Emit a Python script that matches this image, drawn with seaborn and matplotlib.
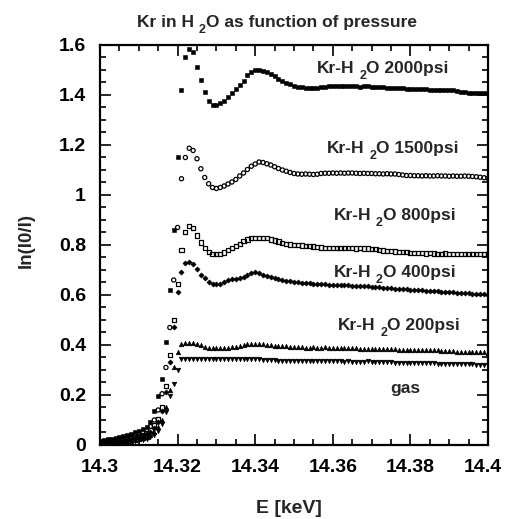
import matplotlib
matplotlib.use("Agg")
import matplotlib.pyplot as plt
import seaborn as sns
from matplotlib.ticker import MultipleLocator
from matplotlib.transforms import offset_copy, ScaledTranslation

# Photon energy (keV), shared sampling grid
energy = [
    14.300, 14.301, 14.302, 14.303, 14.304, 14.305, 14.306, 14.307, 14.308, 14.309,
    14.310, 14.311, 14.312, 14.313, 14.314, 14.315, 14.316, 14.317, 14.318, 14.319,
    14.320, 14.321, 14.322, 14.323, 14.324, 14.325, 14.326, 14.327, 14.328, 14.329,
    14.330, 14.331, 14.332, 14.333, 14.334, 14.335, 14.336, 14.337, 14.338, 14.339,
    14.340, 14.341, 14.342, 14.343, 14.344, 14.345, 14.346, 14.347, 14.348, 14.349,
    14.350, 14.351, 14.352, 14.353, 14.354, 14.355, 14.356, 14.357, 14.358, 14.359,
    14.360, 14.361, 14.362, 14.363, 14.364, 14.365, 14.366, 14.367, 14.368, 14.369,
    14.370, 14.371, 14.372, 14.373, 14.374, 14.375, 14.376, 14.377, 14.378, 14.379,
    14.380, 14.381, 14.382, 14.383, 14.384, 14.385, 14.386, 14.387, 14.388, 14.389,
    14.390, 14.391, 14.392, 14.393, 14.394, 14.395, 14.396, 14.397, 14.398, 14.399,
    14.400,
]

# ln(I0/I) for each pressure
psi2000 = [
    0.016, 0.019, 0.022, 0.025, 0.028, 0.032, 0.036, 0.040, 0.045, 0.050, 0.057,
    0.064, 0.073, 0.090, 0.135, 0.195, 0.265, 0.41, 0.62, 0.86, 1.15,
    1.42, 1.55, 1.585, 1.57, 1.51, 1.46, 1.41, 1.375, 1.36, 1.36,
    1.366, 1.374, 1.39, 1.408, 1.425, 1.44, 1.457, 1.48, 1.492, 1.50,
    1.498, 1.496, 1.491, 1.484, 1.474, 1.464, 1.456, 1.449, 1.443, 1.436,
    1.432, 1.430, 1.429, 1.428, 1.428, 1.429, 1.432, 1.433, 1.434, 1.434,
    1.434, 1.435, 1.434, 1.434, 1.434, 1.435, 1.433, 1.434, 1.434, 1.432,
    1.430, 1.430, 1.430, 1.429, 1.429, 1.429, 1.428, 1.426, 1.425, 1.424,
    1.424, 1.424, 1.423, 1.424, 1.421, 1.420, 1.420, 1.419, 1.418, 1.418,
    1.418, 1.417, 1.412, 1.410, 1.409, 1.408, 1.408, 1.407, 1.407, 1.406,
]
psi1500 = [
    0.012, 0.014, 0.016, 0.018, 0.021, 0.024, 0.027, 0.030, 0.034, 0.038, 0.043,
    0.050, 0.060, 0.074, 0.10, 0.14, 0.205, 0.31, 0.47, 0.66, 0.87,
    1.065, 1.15, 1.187, 1.178, 1.145, 1.105, 1.07, 1.045, 1.03, 1.026,
    1.03, 1.036, 1.044, 1.052, 1.062, 1.076, 1.088, 1.102, 1.115, 1.124,
    1.132, 1.13, 1.125, 1.12, 1.113, 1.106, 1.10, 1.095, 1.09, 1.086,
    1.084, 1.083, 1.084, 1.083, 1.082, 1.083, 1.086, 1.087, 1.087, 1.088,
    1.087, 1.088, 1.087, 1.088, 1.088, 1.087, 1.086, 1.087, 1.086, 1.086,
    1.085, 1.085, 1.084, 1.085, 1.084, 1.084, 1.082, 1.080, 1.078, 1.078,
    1.077, 1.077, 1.076, 1.077, 1.076, 1.076, 1.077, 1.076, 1.076, 1.075,
    1.076, 1.075, 1.075, 1.076, 1.075, 1.074, 1.073, 1.071, 1.069, 1.067,
]
psi800 = [
    0.008, 0.010, 0.012, 0.014, 0.016, 0.018, 0.021, 0.024, 0.027, 0.031, 0.035,
    0.040, 0.048, 0.060, 0.078, 0.105, 0.15, 0.235, 0.36, 0.50, 0.645,
    0.78, 0.853, 0.876, 0.869, 0.838, 0.81, 0.788, 0.771, 0.764, 0.763,
    0.764, 0.77, 0.78, 0.787, 0.795, 0.805, 0.815, 0.822, 0.827, 0.829,
    0.829, 0.829, 0.827, 0.822, 0.818, 0.814, 0.809, 0.805, 0.802, 0.80,
    0.799, 0.798, 0.797, 0.796, 0.794, 0.793, 0.79, 0.789, 0.788, 0.788,
    0.787, 0.787, 0.788, 0.787, 0.787, 0.786, 0.787, 0.786, 0.786, 0.785,
    0.783, 0.780, 0.778, 0.776, 0.775, 0.774, 0.773, 0.772, 0.772, 0.769,
    0.768, 0.767, 0.767, 0.766, 0.767, 0.766, 0.765, 0.765, 0.766, 0.765,
    0.765, 0.764, 0.765, 0.764, 0.764, 0.764, 0.765, 0.764, 0.764, 0.764,
]
psi400 = [
    0.006, 0.007, 0.009, 0.011, 0.013, 0.015, 0.017, 0.020, 0.023, 0.026, 0.030,
    0.035, 0.042, 0.052, 0.068, 0.092, 0.135, 0.21, 0.33, 0.47, 0.61,
    0.69, 0.728, 0.733, 0.724, 0.702, 0.679, 0.666, 0.652, 0.645, 0.644,
    0.644, 0.65, 0.658, 0.663, 0.665, 0.668, 0.673, 0.679, 0.688, 0.69,
    0.687, 0.681, 0.677, 0.671, 0.668, 0.664, 0.66, 0.657, 0.655, 0.652,
    0.650, 0.648, 0.647, 0.646, 0.645, 0.644, 0.643, 0.642, 0.641, 0.641,
    0.640, 0.640, 0.639, 0.638, 0.637, 0.636, 0.636, 0.635, 0.634, 0.632,
    0.631, 0.630, 0.629, 0.628, 0.627, 0.625, 0.624, 0.623, 0.622, 0.621,
    0.620, 0.619, 0.618, 0.617, 0.616, 0.615, 0.614, 0.613, 0.612, 0.611,
    0.610, 0.609, 0.608, 0.607, 0.606, 0.605, 0.604, 0.603, 0.602, 0.600,
]
psi200 = [
    0.004, 0.005, 0.006, 0.008, 0.009, 0.011, 0.013, 0.015, 0.017, 0.020, 0.023,
    0.027, 0.032, 0.040, 0.052, 0.070, 0.10, 0.15, 0.22, 0.31, 0.37,
    0.405, 0.409, 0.408, 0.407, 0.404, 0.398, 0.392, 0.389, 0.388, 0.387,
    0.386, 0.386, 0.389, 0.391, 0.392, 0.394, 0.398, 0.402, 0.403, 0.404,
    0.403, 0.402, 0.400, 0.398, 0.397, 0.397, 0.396, 0.394, 0.392, 0.391,
    0.390, 0.390, 0.389, 0.389, 0.390, 0.389, 0.389, 0.390, 0.389, 0.389,
    0.389, 0.388, 0.389, 0.388, 0.388, 0.386, 0.385, 0.385, 0.385, 0.384,
    0.385, 0.384, 0.384, 0.383, 0.383, 0.382, 0.381, 0.380, 0.380, 0.380,
    0.379, 0.379, 0.380, 0.379, 0.378, 0.378, 0.378, 0.377, 0.376, 0.375,
    0.374, 0.373, 0.373, 0.372, 0.372, 0.371, 0.370, 0.370, 0.370, 0.369,
]
gas = [
    0.002, 0.003, 0.004, 0.005, 0.006, 0.007, 0.009, 0.011, 0.013, 0.015, 0.018,
    0.021, 0.025, 0.031, 0.040, 0.055, 0.085, 0.13, 0.195, 0.245, 0.30,
    0.342, 0.344, 0.343, 0.343, 0.344, 0.343, 0.343, 0.342, 0.343, 0.343,
    0.343, 0.342, 0.343, 0.343, 0.342, 0.343, 0.342, 0.342, 0.342, 0.343,
    0.342, 0.341, 0.341, 0.341, 0.340, 0.337, 0.336, 0.336, 0.335, 0.335,
    0.335, 0.336, 0.335, 0.335, 0.335, 0.334, 0.335, 0.334, 0.334, 0.334,
    0.334, 0.334, 0.333, 0.334, 0.333, 0.333, 0.333, 0.333, 0.334, 0.333,
    0.333, 0.333, 0.333, 0.332, 0.331, 0.328, 0.328, 0.328, 0.327, 0.328,
    0.327, 0.327, 0.327, 0.327, 0.326, 0.326, 0.323, 0.323, 0.322, 0.322,
    0.322, 0.323, 0.322, 0.322, 0.322, 0.322, 0.321, 0.321, 0.321, 0.320,
]

# label text split as (before subscript, subscript, after subscript)
series_labels = [
    ("Kr-H", "2", "O 2000psi"), ("Kr-H", "2", "O 1500psi"),
    ("Kr-H", "2", "O 800psi"), ("Kr-H", "2", "O 400psi"),
    ("Kr-H", "2", "O 200psi"), ("gas", "", ""),
]
title_parts = ("Kr in H", "2", "O as function of pressure")
xtick_values = [14.30, 14.32, 14.34, 14.36, 14.38, 14.40]
xtick_labels = ["14.3", "14.32", "14.34", "14.36", "14.38", "14.4"]
ytick_values = [0, 0.2, 0.4, 0.6, 0.8, 1.0, 1.2, 1.4, 1.6]
ytick_labels = ["0", "0.2", "0.4", "0.6", "0.8", "1", "1.2", "1.4", "1.6"]

sns.set_style("ticks")
plt.rcParams["font.family"] = ["Liberation Sans", "DejaVu Sans"]
plt.rcParams["font.weight"] = "bold"

DPI = 100
fig = plt.figure(figsize=(5.05, 5.19), dpi=DPI)
ax = fig.add_axes([0.198, 0.1426, 0.7683, 0.7707])
renderer = fig.canvas.get_renderer()


def text_width(s, size):
    t = fig.text(0, 0, s, fontsize=size, fontweight="bold")
    w = t.get_window_extent(renderer).width
    t.remove()
    return w


def sub_text(x, y, parts, size, transform):
    # pre + space + lowered small subscript + post, centred on x, baseline y
    pre, sub, post = parts
    sub_size = size * 0.72
    if not sub:
        ax.text(x, y, pre, transform=transform, ha="center", va="baseline",
                fontsize=size, fontweight="bold", clip_on=False)
        return
    gap = text_width("H H", size) - text_width("HH", size)
    w_pre = text_width(pre, size)
    w_sub = text_width(sub, sub_size)
    w_post = text_width(post, size)
    total = w_pre + gap + w_sub + w_post
    start = -total / 2.0
    pieces = [(pre, size, start, 0.0),
              (sub, sub_size, start + w_pre + gap, -6.5),
              (post, size, start + w_pre + gap + w_sub, 0.0)]
    for s, fs, dx, dy in pieces:
        tr = offset_copy(transform, fig=fig, x=dx * 72.0 / DPI,
                         y=dy * 72.0 / DPI, units="points")
        ax.text(x, y, s, transform=tr, ha="left", va="baseline",
                fontsize=fs, fontweight="bold", clip_on=False)


# marker, filled?, size
styles = [("s", True, 10), ("o", False, 9), ("s", False, 9),
          ("D", True, 7), ("^", True, 11), ("v", True, 11)]
all_series = [psi2000, psi1500, psi800, psi400, psi200, gas]

for vals, (mk, filled, sz) in zip(all_series, styles):
    if filled:
        sns.scatterplot(x=energy, y=vals, marker=mk, s=sz, facecolor="black",
                        edgecolor="black", linewidth=0.4, ax=ax, zorder=3)
    else:
        sns.scatterplot(x=energy, y=vals, marker=mk, s=sz, facecolor="none",
                        edgecolor="black", linewidth=0.9, ax=ax, zorder=3)

ax.set_xlim(14.3, 14.4)
ax.set_ylim(0, 1.6)

# curve labels
label_pos = [(14.3729, 1.489), (14.3755, 1.168), (14.3759, 0.900),
             (14.3759, 0.672), (14.3771, 0.460), (14.3786, 0.208)]
for parts, (lx, ly) in zip(series_labels, label_pos):
    sub_text(lx, ly, parts, 12.5, ax.transData)

ax.set_xticks(xtick_values)
ax.set_xticklabels(xtick_labels)
ax.set_yticks(ytick_values)
ax.set_yticklabels(ytick_labels)
ax.xaxis.set_minor_locator(MultipleLocator(0.005))
ax.yaxis.set_minor_locator(MultipleLocator(0.05))
ax.tick_params(which="both", direction="in", top=True, right=True,
               width=1.2, colors="black")
ax.tick_params(which="major", length=8, labelsize=14)
ax.tick_params(which="minor", length=4.5)
ax.tick_params(axis="x", which="major", pad=10)
ax.tick_params(axis="y", which="major", pad=10)
for sp in ax.spines.values():
    sp.set_linewidth(1.6)
    sp.set_color("black")

# nudge the last x tick label inward so it stays on the canvas
last = ax.get_xticklabels()[-1]
last.set_transform(last.get_transform() +
                   ScaledTranslation(-4 / 72.0, 0, fig.dpi_scale_trans))

ax.set_xlabel("E [keV]", fontsize=14, fontweight="bold")
ax.xaxis.label.set_va("baseline")
ax.xaxis.set_label_coords(0.487, -0.17)
ax.set_ylabel("ln(I0/I)", fontsize=13.5, fontweight="bold")
ax.yaxis.label.set_va("center")
ax.yaxis.set_label_coords(-0.19, 0.51)

# title
sub_text(0.456, 1.045, title_parts, 12.5, ax.transAxes)

fig.savefig("out.png", dpi=DPI)
